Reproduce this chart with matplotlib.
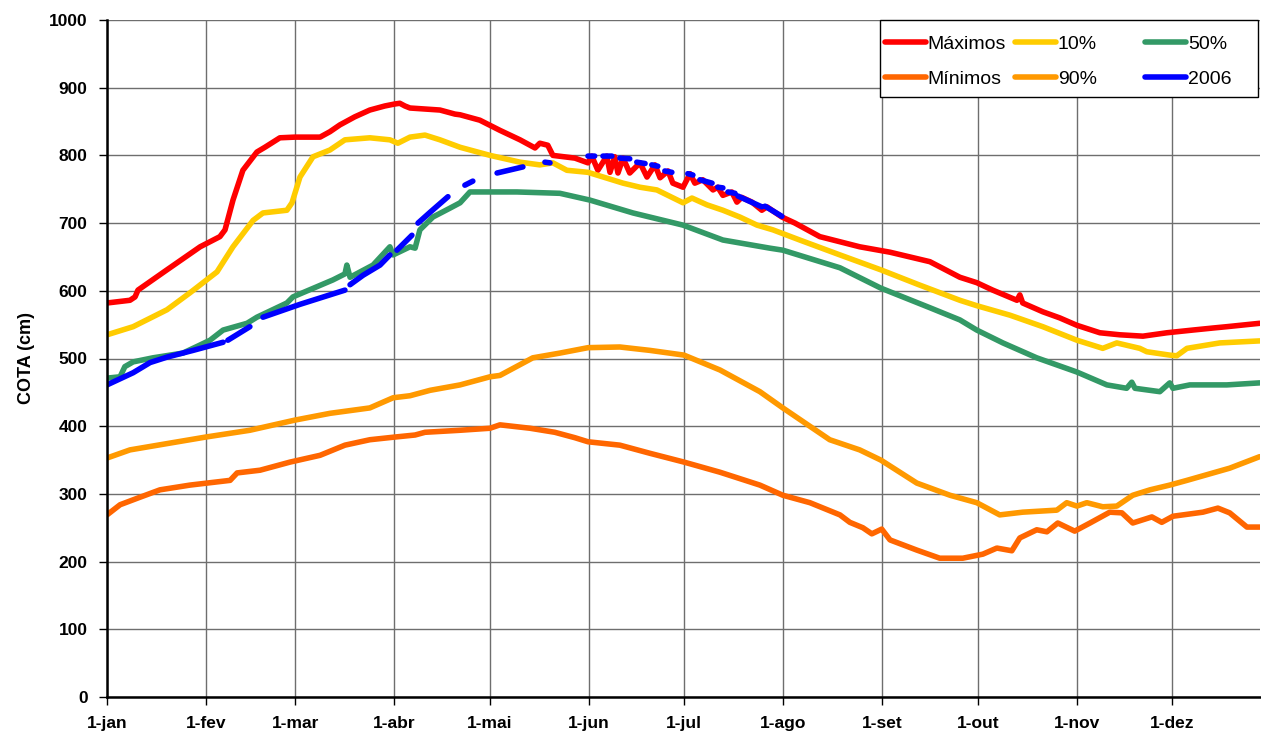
import numpy as np
import matplotlib
matplotlib.use("Agg")
from matplotlib import pyplot as plt
from matplotlib.patches import Rectangle

# day of year, cota (cm)
maximos = [(0, 582), (7.2, 586), (8.8, 591), (9.7, 601), (18.8, 631), (29.2, 665), (35.4, 680),
           (37, 690), (39.5, 734), (42.6, 778), (47, 805), (49.5, 812), (54.2, 826), (58.9, 827),
           (66.8, 827), (69.9, 835), (73, 845), (77.7, 857), (82.4, 867), (87.1, 873), (90.3, 876),
           (91.8, 877), (93.4, 873), (95, 870), (104.4, 867), (109.1, 861), (110.7, 860),
           (116.9, 852), (123.2, 837), (129.5, 823), (134.2, 811), (135.7, 818), (138.2, 815),
           (139.8, 800), (146.7, 796), (150.8, 789), (152, 799), (153.9, 778), (156.7, 799),
           (157.7, 775), (159.2, 798), (160.2, 774), (161.8, 796), (163.9, 774), (167.1, 789),
           (169.3, 768), (171.8, 786), (173.4, 767), (175.9, 777), (177.4, 759), (180.6, 753),
           (182.8, 773), (184.3, 759), (186.8, 764), (190, 749), (191.5, 753), (193.1, 741),
           (195.9, 746), (197.5, 731), (199, 738), (202.2, 731), (205.3, 719), (206.9, 724),
           (211.6, 709), (215.7, 700), (223.5, 680), (236, 665), (245.5, 657), (258, 643),
           (267.4, 620), (272.7, 612), (277.7, 601), (285.3, 586), (286.2, 594), (287.1, 582),
           (293.4, 569), (298.7, 560), (304.1, 549), (311.3, 538), (317.6, 535), (324.8, 533),
           (332.3, 538), (340.4, 542), (346.7, 545), (351.1, 547), (361.4, 552)]

minimos = [(0, 269), (4.1, 284), (10.3, 295), (16.6, 306), (26, 313), (38.6, 320), (40.8, 331),
           (48, 335), (57.4, 347), (66.8, 357), (74.6, 372), (82.4, 380), (90.3, 384), (96.6, 387),
           (99.7, 391), (110.7, 394), (120.1, 397), (123.2, 402), (132.6, 397), (140.4, 391),
           (146.7, 383), (150.8, 377), (160.8, 372), (170.2, 360), (180.9, 347), (192.2, 332),
           (204.7, 313), (211.9, 298), (220.4, 287), (229.8, 269), (232.9, 258), (237, 250),
           (239.8, 241), (242.9, 248), (245.5, 232), (253.9, 217), (261.1, 205), (268.3, 205),
           (274.6, 211), (279, 220), (283.7, 216), (286.2, 235), (291.5, 247), (294.7, 244),
           (298.1, 257), (303.4, 245), (308.2, 257), (314.4, 273), (318.2, 272), (321.6, 257),
           (327.6, 266), (330.7, 258), (334.2, 267), (343.6, 273), (348.3, 279), (352, 272),
           (357.4, 251), (361.4, 251)]

p10 = [(0, 535), (8.2, 547), (18.8, 572), (26, 597), (34.5, 628), (39.5, 665), (45.8, 704),
       (48.9, 715), (56.4, 719), (58, 730), (60.5, 768), (64.6, 798), (69.9, 808), (74.6, 823),
       (82.4, 826), (88.7, 823), (91.2, 818), (95, 827), (99.7, 830), (104.4, 823), (110.7, 812),
       (120.1, 800), (129.5, 790), (135.7, 786), (139.8, 789), (144.2, 778), (150.8, 775),
       (161.8, 759), (167.1, 753), (172.4, 749), (180.6, 730), (183.4, 737), (188.1, 727),
       (193.1, 719), (198.4, 709), (203.8, 697), (208.8, 690), (217.2, 675), (229.8, 653),
       (242.6, 631), (254.5, 609), (267.4, 586), (272.7, 578), (283.1, 564), (293.4, 547),
       (304.1, 527), (312.2, 515), (316.6, 523), (323.8, 515), (326, 510), (333.2, 505),
       (335.4, 504), (338.6, 515), (348.9, 523), (361.4, 526)]

p50 = [(0, 471), (4.1, 473), (5.6, 488), (8.2, 495), (14.4, 501), (23.8, 508), (29.2, 520),
       (32.3, 527), (36.4, 542), (43.9, 552), (47, 561), (56.4, 582), (58.3, 591), (70.8, 616),
       (74.6, 625), (75.2, 638), (76.2, 620), (83.4, 638), (88.7, 665), (89.7, 653), (95, 665),
       (96.6, 663), (98.1, 690), (102.2, 709), (107.5, 722), (110.7, 730), (113.8, 746),
       (116.9, 746), (128.5, 746), (142, 744), (151.4, 734), (164.9, 715), (180.6, 697),
       (193.1, 675), (207.8, 663), (211.9, 660), (229.8, 634), (242.6, 604), (258, 575),
       (267.4, 557), (272.7, 542), (280.9, 523), (291.5, 501), (304.1, 480), (313.5, 461),
       (319.7, 456), (321.3, 465), (322.3, 456), (330.1, 451), (333.2, 464), (334.2, 456),
       (339.5, 461), (351.1, 461), (361.4, 464)]

p90 = [(0, 353), (7.2, 365), (19.7, 375), (31, 384), (44.8, 394), (58.9, 409), (69.9, 419),
       (82.4, 427), (89.7, 442), (95, 445), (101.3, 453), (110.7, 461), (120.1, 473), (123.2, 475),
       (133.5, 501), (142, 508), (150.8, 516), (160.8, 517), (170.2, 512), (180.9, 505),
       (192.2, 483), (204.7, 451), (211.9, 427), (226.6, 380), (236, 365), (242.6, 350),
       (253.9, 316), (264.3, 298), (272.7, 287), (279.9, 269), (287.1, 273), (297.8, 276),
       (300.9, 287), (304.1, 282), (307.2, 287), (312.2, 281), (316.6, 282), (321.6, 298),
       (327, 306), (333.2, 313), (338.6, 320), (352, 338), (361.4, 355)]

# 2006 has missing days -> NaN breaks
ano2006 = [(0, 461), (8.2, 479), (13.5, 494), (18.8, 502), (27, 512), (36.4, 524), (np.nan, np.nan),
           (37.9, 527), (44.8, 547), (np.nan, np.nan),
           (48.9, 561), (60.5, 580), (74.6, 601), (np.nan, np.nan),
           (76.2, 609), (80.3, 623), (85.6, 638), (88.7, 653), (np.nan, np.nan),
           (90.9, 660), (95.6, 682), (np.nan, np.nan),
           (97.5, 700), (101.3, 716), (106.9, 739), (np.nan, np.nan),
           (112.2, 756), (114.7, 762), (np.nan, np.nan),
           (122.3, 774), (130.4, 783), (np.nan, np.nan),
           (137.3, 790), (138.9, 789), (np.nan, np.nan),
           (150.8, 799), (152.9, 799), (np.nan, np.nan),
           (155.5, 799), (158.3, 799), (np.nan, np.nan),
           (160.8, 796), (163.9, 795), (np.nan, np.nan),
           (166.1, 790), (168.7, 788), (np.nan, np.nan),
           (170.8, 786), (172.7, 784), (np.nan, np.nan),
           (174.9, 777), (177.1, 775), (np.nan, np.nan),
           (182.1, 773), (183.7, 771), (np.nan, np.nan),
           (185.9, 764), (189.7, 759), (np.nan, np.nan),
           (191.5, 753), (193.1, 752), (np.nan, np.nan),
           (194.7, 746), (196.9, 744), (np.nan, np.nan),
           (197.8, 740), (205.3, 724), (np.nan, np.nan),
           (206.3, 725), (211.6, 710)]

meses = ['1-jan', '1-fev', '1-mar', '1-abr', '1-mai', '1-jun', '1-jul', '1-ago',
         '1-set', '1-out', '1-nov', '1-dez']
dias_mes = [0, 31, 59, 90, 120, 151, 181, 212, 243, 273, 304, 334]

series = [('Máximos', maximos, '#FF0000'),
          ('10%', p10, '#FFCC00'),
          ('50%', p50, '#339966'),
          ('Mínimos', minimos, '#FF6600'),
          ('90%', p90, '#FF9900'),
          ('2006', ano2006, '#0000FF')]

plt.rcParams['font.family'] = ['Liberation Sans', 'DejaVu Sans']

fig = plt.figure(figsize=(12.61, 7.36), dpi=100)
ax = fig.add_axes([107/1261, 39/736, 1153/1261, 677/736])

linhas = {}
for i, (nome, dados, cor) in enumerate(series):
    d = np.array(dados, dtype=float)
    l, = ax.plot(d[:, 0], d[:, 1], color=cor, lw=4.0, label=nome,
                 solid_capstyle='round', zorder=3 + i)
    linhas[nome] = l

ax.set_xlim(0, 361.5)
ax.set_ylim(0, 1000)
ax.set_yticks(range(0, 1001, 100))
ax.set_xticks(dias_mes)
ax.set_xticklabels(meses)
ax.grid(True, color='#6e6e6e', lw=1)
ax.set_axisbelow(True)
for s in ['top', 'right']:
    ax.spines[s].set_visible(False)
for s in ['left', 'bottom']:
    ax.spines[s].set_linewidth(1.8)
    ax.spines[s].set_zorder(10)
ax.tick_params(direction='out', length=6, width=1, labelsize=12.5, pad=8)
for lab in ax.get_xticklabels() + ax.get_yticklabels():
    lab.set_fontweight('bold')

ax.set_ylabel('COTA (cm)', fontsize=13, fontweight='bold', labelpad=10)

# legend: fixed-width columns inside one box
frame = Rectangle((0.6704, 0.8863), 0.3279, 0.1137, transform=ax.transAxes,
                  facecolor='white', edgecolor='black', lw=1, zorder=19, clip_on=False)
ax.add_patch(frame)
colunas = [(0.6748, ['Máximos', 'Mínimos']),
           (0.7875, ['10%', '90%']),
           (0.9003, ['50%', '2006'])]
for k, (x0, nomes) in enumerate(colunas):
    leg = ax.legend([linhas[n] for n in nomes], nomes, loc='upper left',
                    bbox_to_anchor=(x0, 0.978), frameon=False, fontsize=14,
                    handlelength=2.1, handletextpad=0.1, borderpad=0,
                    labelspacing=0.9, borderaxespad=0)
    leg.set_zorder(20)
    if k < len(colunas) - 1:
        ax.add_artist(leg)

fig.savefig('out.png', dpi=100)
